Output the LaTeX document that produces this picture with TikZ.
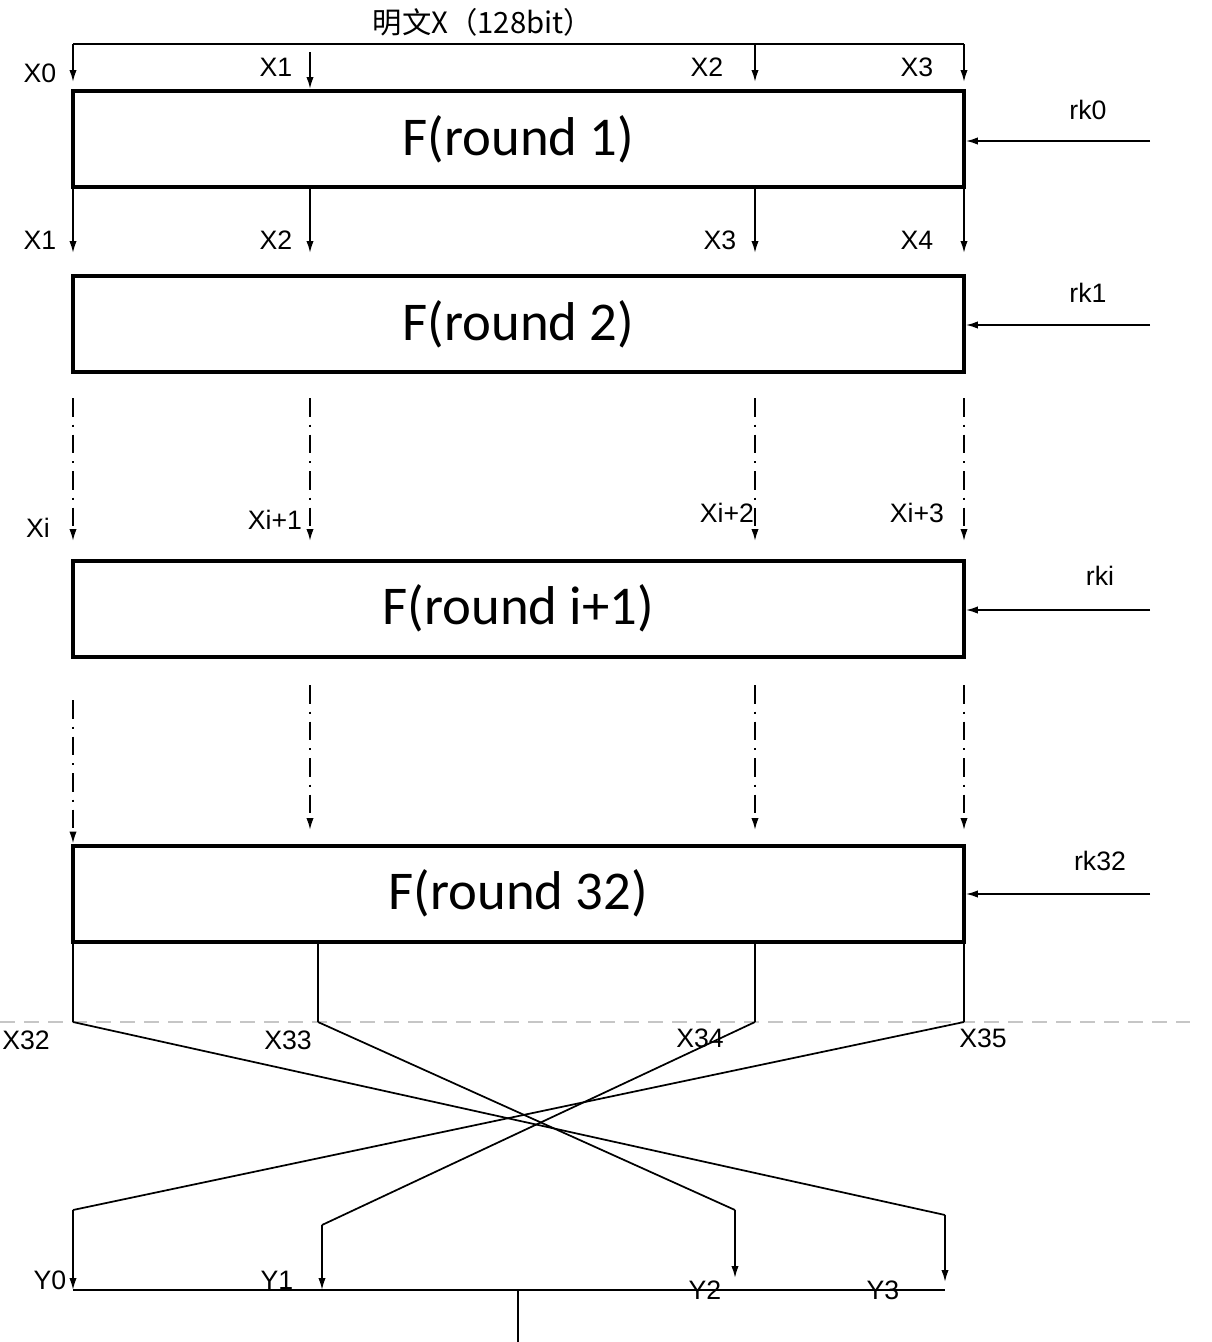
\documentclass[tikz,border=0pt]{standalone}
\usepackage{fontspec}
\setmainfont{Carlito}
\newfontfamily\lblfont{Liberation Sans}
\newfontfamily\cjkfont{Noto Sans CJK SC}
\usetikzlibrary{positioning, arrows.meta, calc}
\tikzset{%
  fbox/.style={draw, line width=3pt, minimum width=668pt, minimum height=72pt, inner sep=0pt, font=\fontsize{41}{44}\selectfont}, % the round boxes
  lbl/.style={inner sep=0pt, font=\lblfont\fontsize{20}{22}\selectfont},
  wire/.style={line width=1.3pt},
  arr/.style={wire, -{Latex[length=9pt, width=5.5pt]}},
  dasharr/.style={arr, dash pattern=on 14pt off 6pt on 1.4pt off 6pt},
  split/.style={line width=1.3pt, gray!45, dash pattern=on 11pt off 7pt}
}

\begin{document}
\begin{tikzpicture}[x=0.75pt, y=-0.75pt]
    \useasboundingbox (0,0) rectangle (1212,1342);

    \node[fbox] (f1) at (518.5,139) {F(round 1)};
    \node[fbox] (f2) at (518.5,324) {F(round 2)};
    \node[fbox] (fi) at (518.5,608.5) {F(round i+1)};
    \node[fbox] (f32) at (518.5,893.5) {F(round 32)};

    % columns and levels
    \coordinate (c1) at (73,0);
    \coordinate (c2) at (310,0);
    \coordinate (c3) at (755,0);
    \coordinate (c4) at (964,0);
    \coordinate (d2) at (318,0);
    \coordinate (y1) at (322,0);
    \coordinate (y2) at (735,0);
    \coordinate (y3) at (945,0);

    % plaintext input
    \node[inner sep=0pt, font=\cjkfont\fontsize{22}{24}\selectfont] (pt) at (483,22) {明文X（128bit）};
    \coordinate (top) at (0,44);
    \coordinate (topx1) at (0,52);
    \coordinate (tip0) at (0,82);
    \draw[wire] (c1 |- top) -- (c4 |- top);
    \draw[arr] (c1 |- top) -- (c1 |- tip0);
    \draw[arr] (c2 |- topx1) -- (c2 |- f1.north);
    \draw[arr] (c3 |- top) -- (c3 |- tip0);
    \draw[arr] (c4 |- top) -- (c4 |- tip0);
    \node[lbl] (x0) at (40,73) {X0};
    \node[lbl] (x1) at (276,67) {X1};
    \node[lbl] (x2) at (707,67) {X2};
    \node[lbl] (x3) at (917,67) {X3};

    % round 1 -> round 2
    \coordinate (tip1) at (0,253);
    \draw[arr] (c1 |- f1.south) -- (c1 |- tip1);
    \draw[arr] (c2 |- f1.south) -- (c2 |- tip1);
    \draw[arr] (c3 |- f1.south) -- (c3 |- tip1);
    \draw[arr] (c4 |- f1.south) -- (c4 |- tip1);
    \node[lbl] (x1b) at (40,240) {X1};
    \node[lbl] (x2b) at (276,240) {X2};
    \node[lbl] (x3b) at (720,240) {X3};
    \node[lbl] (x4b) at (917,240) {X4};

    % round keys
    \coordinate (k0) at (1150,141);
    \coordinate (k1) at (1150,325);
    \coordinate (ki) at (1150,610);
    \coordinate (k32) at (1150,894);
    \draw[arr] (k0) -- (f1.east |- k0);
    \draw[arr] (k1) -- (f2.east |- k1);
    \draw[arr] (ki) -- (fi.east |- ki);
    \draw[arr] (k32) -- (f32.east |- k32);
    \node[lbl] (rk0) at (1088,110) {rk0};
    \node[lbl] (rk1) at (1088,293) {rk1};
    \node[lbl] (rki) at (1100,576) {rki};
    \node[lbl] (rk32) at (1100,861) {rk32};

    % omitted rounds
    \coordinate (gap1) at (0,398);
    \coordinate (tip2) at (0,541);
    \draw[dasharr] (c1 |- gap1) -- (c1 |- tip2);
    \draw[dasharr] (c2 |- gap1) -- (c2 |- tip2);
    \draw[dasharr] (c3 |- gap1) -- (c3 |- tip2);
    \draw[dasharr] (c4 |- gap1) -- (c4 |- tip2);
    \node[lbl] (xi) at (38,528) {Xi};
    \node[lbl] (xi1) at (275,520) {Xi+1};
    \node[lbl] (xi2) at (727,513) {Xi+2};
    \node[lbl] (xi3) at (917,513) {Xi+3};

    \coordinate (gap2) at (0,685);
    \coordinate (gap2a) at (0,700);
    \coordinate (tip3) at (0,830);
    \draw[dasharr] (c1 |- gap2a) -- (c1 |- f32.north);
    \draw[dasharr] (c2 |- gap2) -- (c2 |- tip3);
    \draw[dasharr] (c3 |- gap2) -- (c3 |- tip3);
    \draw[dasharr] (c4 |- gap2) -- (c4 |- tip3);

    % final swap
    \coordinate (sw) at (0,1022);
    \draw[split] (0,1022) -- (1190,1022);
    \draw[wire] (c1 |- f32.south) -- (c1 |- sw);
    \draw[wire] (d2 |- f32.south) -- (d2 |- sw);
    \draw[wire] (c3 |- f32.south) -- (c3 |- sw);
    \draw[wire] (c4 |- f32.south) -- (c4 |- sw);
    \node[lbl] (x32) at (26,1040) {X32};
    \node[lbl] (x33) at (288,1040) {X33};
    \node[lbl] (x34) at (700,1038) {X34};
    \node[lbl] (x35) at (983,1038) {X35};

    \coordinate (o0) at (73,1210);
    \coordinate (o1) at (322,1225);
    \coordinate (o2) at (735,1210);
    \coordinate (o3) at (945,1215);
    \draw[wire] (c1 |- sw) -- (o3);
    \draw[wire] (d2 |- sw) -- (o2);
    \draw[wire] (c3 |- sw) -- (o1);
    \draw[wire] (c4 |- sw) -- (o0);

    % output
    \coordinate (out) at (0,1290);
    \draw[arr] (o0) -- (c1 |- out);
    \draw[arr] (o1) -- (y1 |- out);
    \draw[arr] (o2) -- (y2 |- 0,1278);
    \draw[arr] (o3) -- (y3 |- 0,1282);
    \draw[wire] (c1 |- out) -- (y3 |- out);
    \coordinate (res) at (518,1342);
    \draw[wire] (res |- out) -- (res);
    \node[lbl] (y0l) at (50,1280) {Y0};
    \node[lbl] (y1l) at (277,1280) {Y1};
    \node[lbl] (y2l) at (705,1290) {Y2};
    \node[lbl] (y3l) at (883,1290) {Y3};
\end{tikzpicture}
\end{document}
